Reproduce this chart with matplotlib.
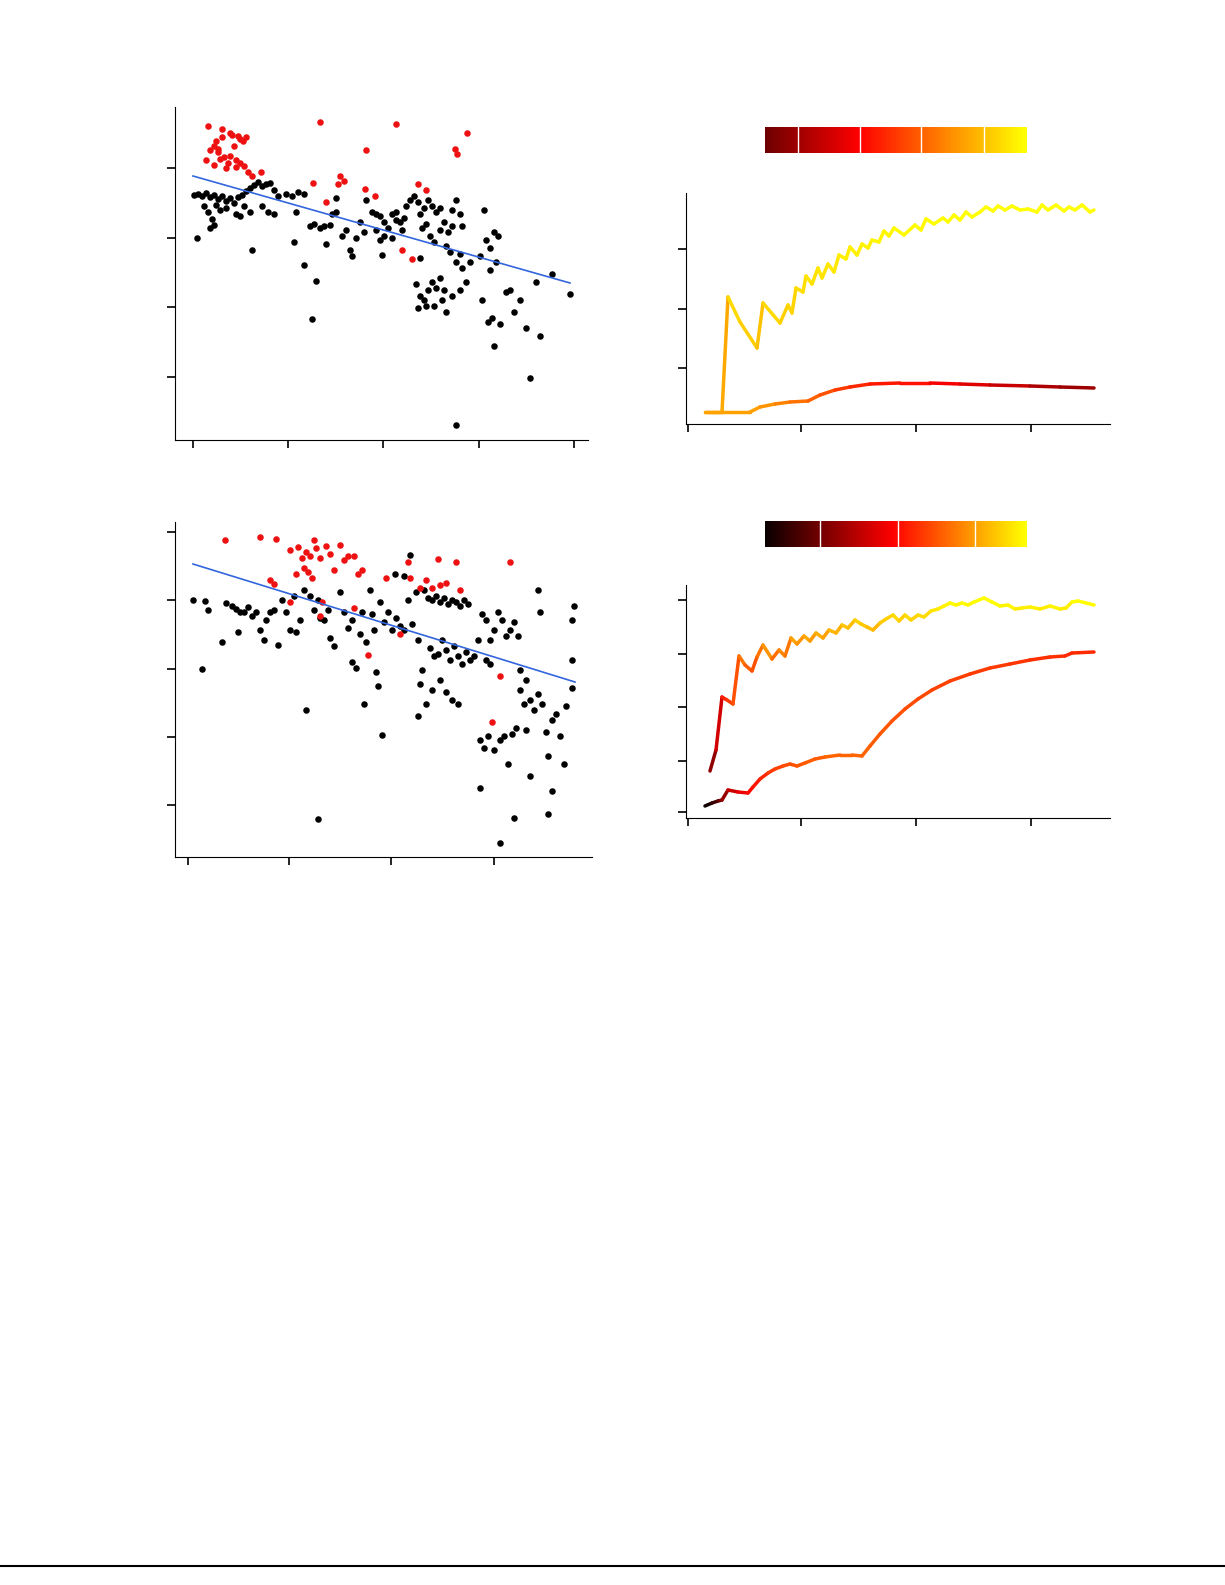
import matplotlib
matplotlib.use("Agg")
import matplotlib.pyplot as plt
import numpy as np
from matplotlib.collections import LineCollection
from matplotlib.colors import LinearSegmentedColormap
from matplotlib.lines import Line2D

W, H = 1225, 1585

# ---- values (picture units) ----
red1 = [(208,126),(222,129),(230,133),(238,136),(246,137),(232,135),(240,139),(214,146),(210,150),(218,149),
        (224,157),(230,156),(236,160),(228,163),(220,159),(214,165),(244,166),(248,172),(240,163),(226,168),
        (222,137),(243,141),(320,122),(396,124),(467,133),(366,150),(455,149),(457,154),(418,184),(426,190),
        (365,189),(375,196),(340,176),(344,181),(338,184),(313,183),(326,202),(402,250),(412,259),(261,172),
        (252,176),(234,146),(218,152),(206,160),(216,141),(236,167)]
black1 = [(194,195),(198,194),(202,196),(206,193),(210,197),(214,195),(218,199),(222,196),(226,201),(230,198),
          (234,203),(238,197),(242,195),(246,191),(250,188),(254,185),(258,182),(262,186),(266,184),(270,183),
          (274,190),(278,196),(204,206),(208,212),(212,219),(216,205),(220,210),(210,228),(214,225),(197,238),
          (226,208),(236,214),(244,206),(250,212),(240,216),(252,250),(262,206),(268,212),(274,214),(286,194),
          (292,196),(298,192),(304,194),(296,212),(294,242),(304,265),(310,226),(314,224),(320,228),(324,226),
          (330,225),(316,281),(312,319),(326,244),(332,214),(336,212),(342,236),(346,230),(350,250),(352,256),
          (356,238),(360,222),(364,232),(366,200),(336,198),(372,212),(376,214),(380,216),(384,222),(388,228),
          (392,214),(396,220),(400,222),(404,218),(380,240),(384,236),(376,230),(382,255),(392,238),(396,212),
          (402,230),(406,206),(410,200),(414,196),(418,202),(420,214),(424,208),(428,200),(432,206),(436,212),
          (422,228),(426,224),(430,236),(434,242),(440,230),(444,222),(448,232),(452,226),(456,200),(460,214),
          (462,226),(446,246),(450,252),(420,258),(456,262),(460,254),(416,284),(420,296),(424,300),(428,290),
          (432,282),(436,288),(440,278),(444,290),(418,308),(426,306),(434,306),(442,300),(446,312),(452,296),
          (460,290),(466,282),(462,268),(470,262),(480,256),(484,210),(486,240),(490,248),(494,232),(498,236),
          (490,270),(496,262),(482,300),(488,322),(492,318),(494,346),(500,324),(506,292),(510,290),(514,312),
          (520,300),(526,328),(540,336),(530,378),(552,274),(536,282),(570,294),(456,425),(440,208),(452,210)]
reg1_x = [193, 570]
reg1_y = [176, 283]

red2 = [(225,540),(260,537),(276,539),(290,550),(298,547),(302,558),(306,552),(310,556),(314,540),(316,548),
        (320,558),(326,546),(330,554),(334,570),(340,545),(344,560),(348,556),(354,556),(358,574),(362,570),
        (296,574),(304,568),(308,572),(312,578),(270,580),(274,584),(290,602),(322,602),(320,616),(354,608),
        (368,655),(386,578),(408,562),(410,578),(420,588),(426,580),(438,559),(456,562),(440,585),(446,583),
        (460,590),(500,676),(492,722),(510,562),(432,588),(400,634)]
black2 = [(193,600),(205,601),(208,610),(202,669),(222,642),(226,603),(232,606),(236,609),(240,612),(238,632),
          (244,612),(248,607),(252,616),(256,612),(260,630),(264,640),(266,620),(270,612),(274,610),(278,645),
          (282,600),(286,612),(290,630),(294,596),(296,632),(300,620),(304,590),(306,710),(310,596),(314,610),
          (318,600),(320,618),(324,620),(328,610),(330,638),(334,646),(318,819),(340,592),(344,612),(348,628),
          (352,620),(352,662),(356,668),(360,634),(362,612),(364,704),(366,642),(370,590),(372,614),(374,630),
          (376,672),(378,686),(380,602),(382,735),(384,622),(388,612),(392,630),(396,618),(400,626),(404,630),
          (408,600),(412,624),(416,592),(418,640),(420,684),(422,670),(418,716),(424,590),(428,598),(432,600),
          (436,596),(440,602),(444,598),(448,604),(452,600),(456,602),(460,606),(464,600),(468,604),(430,648),
          (434,656),(438,654),(442,640),(446,650),(450,660),(454,646),(458,656),(462,664),(466,652),(470,660),
          (474,656),(478,640),(440,680),(446,692),(452,700),(458,704),(426,704),(432,690),(482,614),(486,620),
          (490,640),(494,630),(498,612),(502,620),(506,636),(510,630),(514,622),(518,636),(486,660),(490,664),
          (480,740),(484,748),(488,736),(494,750),(500,740),(504,736),(508,764),(512,734),(516,728),(520,690),
          (524,704),(526,730),(530,700),(534,710),(538,694),(542,704),(546,732),(548,756),(552,720),(556,714),
          (560,736),(564,764),(566,706),(572,688),(574,606),(572,620),(540,612),(538,590),(530,776),(514,818),
          (500,843),(548,814),(552,791),(480,788),(520,670),(526,680),(572,660),(410,555),(404,576),(395,574)]
reg2_x = [193, 575]
reg2_y = [564, 682]

line1a_x = [705,722,728,740,757,763,780,788,792,796,803,806,812,818,822,828,834,839,846,850,857,862,868,872,879,
            884,889,894,904,915,921,926,934,943,948,954,960,966,972,980,986,993,998,1005,1012,1020,1028,1037,
            1042,1048,1056,1064,1069,1075,1082,1090,1094]
line1a_y = [412,412,297,322,348,303,323,305,313,288,292,276,284,268,278,264,272,255,259,247,255,244,248,240,242,
            231,236,228,235,225,230,219,224,218,222,215,220,212,217,212,207,211,206,210,206,210,209,212,
            205,210,205,211,207,210,205,212,210]
line1b_x = [705,750,760,775,790,808,820,835,850,870,900,930,960,990,1030,1060,1094]
line1b_y = [412,412,407,404,402,401,395,390,387,384,383,383,384,385,386,387,388]
line1b_c = [0.76,0.75,0.72,0.68,0.64,0.6,0.56,0.5,0.46,0.42,0.4,0.34,0.28,0.22,0.16,0.12,0.1]

line2a_x = [710,716,722,727,733,739,745,752,757,763,772,779,785,791,797,804,810,816,823,829,836,842,848,855,861,
            867,873,880,886,893,899,905,911,918,924,931,938,944,950,956,962,968,974,984,992,1000,1008,1015,1022,
            1030,1040,1050,1060,1066,1072,1078,1086,1094]
line2a_y = [771,750,697,700,704,656,665,671,657,645,659,650,656,638,644,636,641,633,638,630,633,625,628,620,624,
            627,630,623,619,615,621,615,620,615,617,611,609,606,603,605,603,605,602,598,602,606,605,609,608,
            607,609,606,609,608,602,601,603,605]
line2b_x = [705,712,718,722,728,738,748,753,760,768,775,783,790,797,805,815,825,840,852,862,870,880,892,905,918,
            932,950,970,990,1010,1030,1050,1065,1072,1094]
line2b_y = [806,803,801,800,790,792,793,787,779,773,769,766,764,766,763,759,757,755,755,756,746,734,721,709,699,
            690,681,674,668,664,660,657,656,653,652]
line2b_c = [0.02,0.1,0.2,0.28,0.38,0.45,0.5,0.53,0.56,0.6,0.62,0.64,0.65,0.66,0.67,0.67,0.68,0.68,0.68,0.68,
            0.67,0.66,0.65,0.64,0.63,0.62,0.61,0.6,0.6,0.59,0.58,0.58,0.57,0.57,0.56]

hot = plt.get_cmap("hot")
cmap1 = LinearSegmentedColormap.from_list("h1", hot(np.linspace(0.15, 0.75, 256)))
cmap2 = LinearSegmentedColormap.from_list("h2", hot(np.linspace(0.0, 0.75, 256)))

fig = plt.figure(figsize=(W / 100, H / 100), dpi=100)


def add_ax(l, t, r, b, xt, yt):
    ax = fig.add_axes([l / W, 1 - b / H, (r - l) / W, (b - t) / H])
    ax.set_xlim(l, r)
    ax.set_ylim(b, t)
    for s in ["top", "right"]:
        ax.spines[s].set_visible(False)
    ax.set_xticks(xt)
    ax.set_yticks(yt)
    ax.set_xticklabels([])
    ax.set_yticklabels([])
    ax.tick_params(direction="out", length=6, width=1.2)
    return ax


def scatter_panel(ax, red, black, rx, ry):
    b = np.array(black)
    r = np.array(red)
    ax.scatter(b[:, 0], b[:, 1], s=22, c="black", lw=0, zorder=2)
    ax.scatter(r[:, 0], r[:, 1], s=22, c="#ee1111", lw=0, zorder=2)
    ax.plot(rx, ry, color="#3366dd", lw=1.2, zorder=3)


def colored_line(ax, x, y, c, cmap):
    pts = np.column_stack([x, y]).reshape(-1, 1, 2)
    segs = np.concatenate([pts[:-1], pts[1:]], axis=1)
    lc = LineCollection(segs, cmap=cmap, linewidths=2.5, capstyle="round", joinstyle="round")
    lc.set_array(np.asarray(c)[:-1])
    lc.set_clim(0, 1)
    ax.add_collection(lc)


def colorbar(l, t, r, b, cmap, ticks):
    cax = fig.add_axes([l / W, 1 - b / H, (r - l) / W, (b - t) / H])
    cax.imshow(np.linspace(0, 1, 256)[None, :], cmap=cmap, aspect="auto", extent=(l, r, 0, 1))
    for tx in ticks:
        cax.axvline(tx, color="white", lw=1)
    cax.set_axis_off()


ax1 = add_ax(175, 107, 588, 440, [193, 288, 383, 479, 574], [168, 238, 307, 377])
scatter_panel(ax1, red1, black1, reg1_x, reg1_y)

ax2 = add_ax(686, 193, 1110, 424, [688, 801, 916, 1031], [249, 309, 368])
c1a = 0.77 + 0.23 * (412 - np.array(line1a_y)) / 200
colored_line(ax2, line1a_x, line1a_y, np.clip(c1a, 0, 1), cmap1)
colored_line(ax2, line1b_x, line1b_y, line1b_c, cmap1)
colorbar(765, 127, 1027, 153, cmap1, [798, 860, 921, 984])

ax3 = add_ax(175, 522, 592, 857, [188, 289, 391, 494], [532, 600, 669, 737, 805])
scatter_panel(ax3, red2, black2, reg2_x, reg2_y)

ax4 = add_ax(686, 585, 1110, 818, [688, 801, 916, 1031], [600, 654, 707, 761, 812])
c2a = np.concatenate([[0.27, 0.4, 0.55, 0.6, 0.65], 0.72 + 0.28 * (656 - np.array(line2a_y[5:])) / 56])
colored_line(ax4, line2a_x, line2a_y, np.clip(c2a, 0, 1), cmap2)
colored_line(ax4, line2b_x, line2b_y, line2b_c, cmap2)
colorbar(765, 521, 1027, 547, cmap2, [820, 898, 975])

fig.add_artist(Line2D([0, 1], [1 - 1566 / H, 1 - 1566 / H], color="black", lw=1.5))

fig.savefig("out.png", dpi=100)
